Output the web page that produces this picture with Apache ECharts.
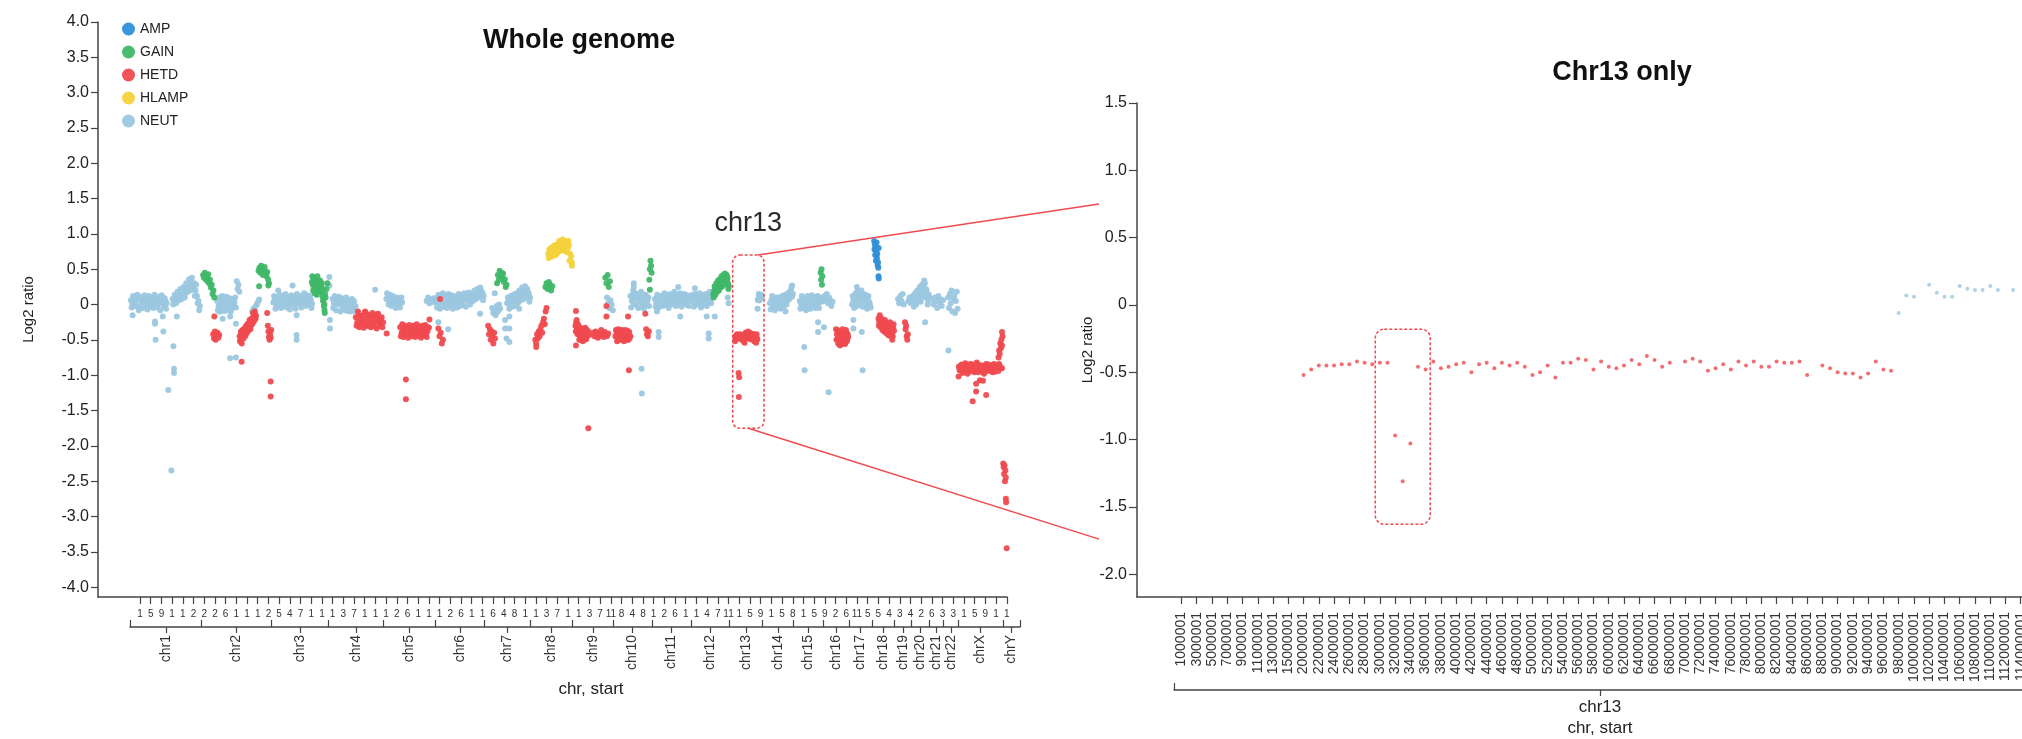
<!DOCTYPE html>
<html>
<head>
<meta charset="utf-8">
<script src="https://cdn.jsdelivr.net/npm/echarts@6/dist/echarts.min.js"></script>
<style>
  html, body { margin: 0; padding: 0; background: #fff; }
  #chart { width: 2022px; height: 739px; }
</style>
</head>
<body>
<div id="chart"></div>
<script>
// ---------------- Copy-number states ----------------
const STATES = ['AMP', 'GAIN', 'HETD', 'HLAMP', 'NEUT'];
const STATE_COLORS = { AMP: '#2f8fd8', GAIN: '#40b768', HETD: '#ef4a4f', HLAMP: '#f4d23c', NEUT: '#9bc7df' };

// ---------------- Genome layout ----------------
const CHR_NAMES = ['chr1','chr2','chr3','chr4','chr5','chr6','chr7','chr8','chr9','chr10','chr11','chr12',
  'chr13','chr14','chr15','chr16','chr17','chr18','chr19','chr20','chr21','chr22','chrX','chrY'];
const CHR_LENGTHS_MB = [249.25,243.2,198.0,191.2,180.9,171.1,159.1,146.4,141.2,135.5,135.0,133.9,
  115.2,107.3,102.5,90.4,81.2,78.1,59.1,63.0,48.1,51.3,155.3,59.4];

// "start" tick labels along the whole-genome axis (first character of each start)
const GENOME_TICK_LABELS = ['1','5','9','1','1','2','2','2','6','1','1','1','2','5','4','7','1','1','1','3',
  '7','1','1','1','2','6','1','1','1','2','6','1','1','6','4','8','1','1','3','7','1',
  '1','3','7','11','8','4','8','1','2','6','1','1','4','7','11','1','5','9','1','5','8','1','5','9','2',
  '6','11','5','5','4','3','4','2','6','3','3','1','5','9','1','1'];
const GENOME_TICK_FIRST_MB = 34.8;
const GENOME_TICK_STEP_MB = 37.22;

// ---------------- Log2 ratios per chromosome ----------------
// run: [state, startMb, stepMb, values]  |  points: [state, posMb, values]
const chr1 = [
  ['NEUT', 3, 5, [0.06,0.02,0.09,0.04,-0.02,0.07,-0.06,-0.03,0.05,0.08,0.03,0.06,-0.01,0.07,0.04,0.09,0.02,0.05,0.08,0.01,0.06,0.03,0.1,-0.02,0.05,0.02]],
  ['NEUT', 5.5, 5, [-0.04,0.12,-0.02,0.1,0.14,-0.08,0.11,0.02,-0.05,0.13,0.0,-0.07,0.12,-0.03,0.1,-0.05,0.14,0.0,-0.04,0.11,-0.08,0.13,0.0,0.09,-0.06]],
  ['NEUT', 148, 5, [0.08,0.05,0.1,0.12,0.09,0.15,0.11,0.18,0.14,0.2,0.17,0.24,0.28,0.32,0.26,0.3,0.2,0.12,0.05,-0.02]],
  ['NEUT', 150.5, 5, [0.0,0.14,0.02,0.18,0.06,0.22,0.08,0.25,0.1,0.3,0.22,0.36,0.2,0.38,0.22,0.12,0.28,0.02,-0.08]],
  ['NEUT', 9, [-0.15]], ['NEUT', 87, [-0.24,-0.27]], ['NEUT', 89, [-0.5]], ['NEUT', 114, [-0.17]], ['NEUT', 116, [-0.38]],
  ['NEUT', 133, [-1.21]], ['NEUT', 144, [-2.35]], ['NEUT', 151, [-0.59]], ['NEUT', 153, [-0.91,-0.97]], ['NEUT', 163, [-0.17]]
];
const chr2 = [
  ['GAIN', 5, 3, [0.42,0.38,0.45,0.36,0.4,0.33,0.43,0.3,0.35,0.24,0.28,0.15,0.2,0.1]],
  ['HETD', 40, 3, [-0.42,-0.48,-0.38,-0.5,-0.44,-0.4,-0.47,-0.43]],
  ['HETD', 44, [-0.17]],
  ['NEUT', 54, 5, [0.05,-0.02,0.08,0.0,-0.05,0.06,0.02,-0.06,0.04,-0.03,0.01,0.07,0.03,-0.04]],
  ['NEUT', 56.5, 5, [-0.08,0.1,-0.1,0.12,0.03,-0.09,0.11,-0.02,0.09,-0.1,0.08,-0.04,0.1]],
  ['NEUT', 122, 3, [0.33,0.22,0.28,0.18]],
  ['NEUT', 61, [-0.1]], ['NEUT', 73, [-0.2]], ['NEUT', 99, [-0.17,-0.76]], ['NEUT', 119, [-0.27,-0.75]],
  ['HETD', 132, 3, [-0.45,-0.5,-0.42,-0.47,-0.4,-0.44,-0.38,-0.42,-0.35,-0.32,-0.37,-0.3,-0.26,-0.3,-0.22,-0.25,-0.18,-0.2,-0.14,-0.16]],
  ['HETD', 133.5, 3, [-0.52,-0.38,-0.55,-0.36,-0.48,-0.34,-0.45,-0.3,-0.4,-0.27,-0.33,-0.22,-0.35,-0.2,-0.28,-0.12,-0.24,-0.1,-0.2]],
  ['HETD', 139, [-0.81]],
  ['NEUT', 176, 4, [-0.1,-0.06,-0.08,-0.02,0.0,0.04,0.07]],
  ['GAIN', 198, 3, [0.48,0.52,0.45,0.55,0.5,0.42,0.47,0.53,0.44,0.4,0.46,0.36,0.3]],
  ['GAIN', 200, [0.26]], ['GAIN', 232, [0.27]],
  ['HETD', 228, 2, [-0.12,-0.3,-0.38,-0.46,-0.5,-0.42,-0.47,-0.36]],
  ['HETD', 240, [-1.09,-1.3]]
];
const chr3 = [
  ['NEUT', 6, 5, [0.03,0.08,0.0,0.06,0.1,0.02,0.05,-0.02,0.07,0.04,0.09,0.01,0.06,0.03,0.08,0.0,0.05,0.1,0.04,0.07,0.02,0.06,0.09,0.05,0.11,0.03,0.07,0.01]],
  ['NEUT', 8.5, 5, [0.12,-0.06,0.1,-0.03,0.14,-0.05,0.12,0.0,0.15,-0.04,0.1,-0.07,0.13,0.0,0.11,-0.06,0.15,0.02,0.12,-0.04,0.1,0.16,-0.02,0.13,0.0,0.12,-0.05]],
  ['NEUT', 23, [0.2]], ['NEUT', 73, [0.27]], ['NEUT', 87, [-0.15,-0.43,-0.5]],
  ['GAIN', 140, 3, [0.32,0.28,0.35,0.25,0.3,0.22,0.27,0.2,0.33,0.24,0.18,0.28,0.12,0.05,-0.02,-0.12,0.1,0.22,0.3]],
  ['GAIN', 141.5, 3, [0.4,0.2,0.38,0.16,0.36,0.14,0.4,0.3,0.25,0.34,0.2,0.3,0.22,0.08]],
  ['GAIN', 184, [0.0,-0.08]], ['GAIN', 186, [0.15]]
];
const chr4 = [
  ['NEUT', 3, [0.39,0.27]], ['NEUT', 5, [-0.22,-0.34]],
  ['NEUT', 14, 5, [0.08,0.02,0.06,0.1,0.0,0.05,0.03,-0.04,0.07,0.01,0.04,-0.06,0.02,-0.03,0.0,0.05,-0.02]],
  ['NEUT', 16.5, 5, [-0.05,0.12,-0.08,0.03,0.11,-0.1,0.09,0.0,-0.07,0.1,-0.09,0.06,-0.1,0.08,-0.05,-0.1]],
  ['NEUT', 60, [-0.08]], ['NEUT', 75, [-0.07]], ['NEUT', 162, [0.21]],
  ['HETD', 95, 5, [-0.18,-0.25,-0.15,-0.22,-0.28,-0.2,-0.12,-0.24,-0.18,-0.3,-0.2,-0.16,-0.26,-0.22,-0.14,-0.24,-0.2,-0.28,-0.18,-0.25]],
  ['HETD', 97.5, 5, [-0.3,-0.1,-0.32,-0.16,-0.26,-0.33,-0.1,-0.3,-0.14,-0.27,-0.32,-0.12,-0.3,-0.17,-0.34,-0.13,-0.3,-0.22,-0.32]]
];
const chr5 = [
  ['HETD', 11, [-0.41]],
  ['NEUT', 10, 5, [0.08,0.12,0.05,0.1,0.03,0.06,0.0,0.04,-0.01,0.02,0.06,0.03]],
  ['NEUT', 12.5, 5, [0.16,0.0,0.14,-0.02,0.12,0.09,-0.05,0.1,0.05,-0.04,0.1]],
  ['HETD', 58, 5, [-0.32,-0.4,-0.35,-0.38,-0.42,-0.33,-0.37,-0.4,-0.35,-0.44,-0.38,-0.36,-0.41,-0.34,-0.39,-0.43,-0.37,-0.35,-0.4,-0.38,-0.33]],
  ['HETD', 60.5, 5, [-0.45,-0.28,-0.46,-0.3,-0.36,-0.47,-0.29,-0.45,-0.32,-0.3,-0.46,-0.28,-0.44,-0.31,-0.47,-0.3,-0.44,-0.29,-0.46,-0.32]],
  ['HETD', 160, [-0.21]], ['HETD', 78, [-1.06,-1.34]],
  ['NEUT', 150, 5, [0.05,0.1,0.02,0.07,0.04,0.09,0.03]]
];
const chr6 = [
  ['NEUT', 3, 5, [0.06,0.1,0.02,0.08,0.04,0.12,0.0,0.07,0.05,0.1,0.03,0.08,-0.02,0.06,0.09,0.04,0.11,0.05,0.08,0.13,0.07,0.1,0.05,0.09,0.12,0.08,0.14,0.1,0.12,0.16,0.15,0.2,0.17,0.12]],
  ['NEUT', 5.5, 5, [-0.04,0.14,-0.06,0.12,0.16,-0.03,0.12,-0.05,0.15,0.0,0.13,-0.06,0.12,0.02,-0.04,0.15,-0.02,0.14,0.0,0.16,-0.03,0.12,0.17,0.0,0.15,0.05,0.2,0.08,0.22,0.1,0.24,0.14,0.06]],
  ['HETD', 16, [0.08]],
  ['HETD', 10, 4, [-0.34,-0.45,-0.4,-0.55,-0.5]],
  ['NEUT', 10, [-0.25]], ['NEUT', 44, [-0.35]], ['NEUT', 155, [-0.13]]
];
const chr7 = [
  ['HETD', 12, 3, [-0.3,-0.42,-0.35,-0.5,-0.38,-0.45,-0.55,-0.4,-0.48]],
  ['NEUT', 26, 4, [-0.05,-0.12,-0.08,-0.15,-0.02,-0.1,0.0,-0.06]],
  ['NEUT', 35, [0.16]],
  ['GAIN', 43, 3, [0.3,0.42,0.35,0.48,0.4,0.45,0.38,0.44,0.32,0.36,0.25,0.28]],
  ['NEUT', 78, 5, [0.02,0.06,0.0,0.08,0.04,0.1,0.05,0.12,0.08,0.15,0.18,0.12,0.2,0.15,0.22,0.16,0.1]],
  ['NEUT', 80.5, 5, [0.1,-0.06,0.12,-0.03,0.14,-0.02,0.16,0.02,0.2,0.06,0.24,0.08,0.26,0.1,0.17,0.04]],
  ['NEUT', 71, [-0.22,-0.34]], ['NEUT', 76, [-0.48]], ['NEUT', 86, [-0.17,-0.34,-0.53]], ['NEUT', 120, [-0.06]]
];
const chr8 = [
  ['HETD', 17, 3, [-0.5,-0.55,-0.42,-0.48,-0.38,-0.45,-0.35,-0.3,-0.4,-0.25,-0.2,-0.28,-0.1,-0.05]],
  ['HETD', 20, [-0.6]],
  ['GAIN', 52, 4, [0.25,0.3,0.22,0.32,0.28,0.2,0.26]],
  ['HLAMP', 62, 4, [0.72,0.78,0.7,0.75,0.82,0.76,0.8,0.72,0.85,0.78,0.82,0.88,0.8,0.84,0.76,0.86,0.9,0.8,0.84,0.72,0.68]],
  ['HLAMP', 64, 4, [0.66,0.74,0.8,0.68,0.72,0.84,0.7,0.78,0.74,0.9,0.76,0.82,0.92,0.78,0.88,0.8,0.74,0.9,0.62]],
  ['HLAMP', 144, [0.6,0.55]]
];
const chr9 = [
  ['HETD', 10, 3, [-0.3,-0.25,-0.35,-0.28,-0.4,-0.32,-0.45,-0.38,-0.42,-0.48,-0.4,-0.44,-0.36,-0.46,-0.41,-0.38,-0.43]],
  ['HETD', 11.5, 3, [-0.38,-0.22,-0.42,-0.36,-0.5,-0.35,-0.5,-0.34,-0.52,-0.37,-0.5,-0.33,-0.49,-0.36]],
  ['HETD', 12, [-0.09,-0.58]], ['HETD', 55, [-1.75]],
  ['HETD', 72, 4, [-0.4,-0.45,-0.38,-0.42,-0.47,-0.4,-0.44,-0.36,-0.43,-0.46,-0.39,-0.42,-0.45,-0.41]],
  ['GAIN', 114, 4, [0.38,0.3,0.42,0.25,0.33]],
  ['HETD', 118, [-0.02,-0.17]],
  ['NEUT', 120, 4, [0.1,0.02,-0.05,0.06,0.0,-0.08]]
];
const chr10 = [
  ['HETD', 8, 4, [-0.45,-0.4,-0.48,-0.42,-0.38,-0.46,-0.5,-0.41,-0.44,-0.4,-0.47,-0.43,-0.39,-0.45]],
  ['HETD', 10, 4, [-0.36,-0.52,-0.35,-0.5,-0.48,-0.36,-0.42,-0.52,-0.36,-0.5,-0.37,-0.5,-0.47]],
  ['HETD', 52, [-0.17]], ['HETD', 55, [-0.93]],
  ['NEUT', 60, 5, [0.12,0.05,0.2,0.08,0.0,0.1,0.15,0.04,-0.03,0.08,0.02,0.12,0.06,-0.02]],
  ['NEUT', 62.5, 5, [-0.04,0.14,0.0,0.16,0.1,-0.05,0.08,0.18,0.1,-0.06,0.14,0.0,0.1]],
  ['NEUT', 72, [0.3,0.25]], ['NEUT', 99, [-0.91]], ['NEUT', 100, [-1.26]],
  ['HETD', 112, 3, [-0.13,-0.35,-0.42,-0.45,-0.38]],
  ['GAIN', 126, 2, [0.35,0.5,0.62,0.55,0.45]], ['GAIN', 128, [0.21]]
];
const chr11 = [
  ['NEUT', 10, 5, [0.08,0.03,0.1,0.05,0.0,0.07,0.12,0.04,0.09,0.02,0.06,0.11,0.05,0.08,0.14,0.03,0.07,0.1,0.04,0.09,0.06,0.02,0.08,0.05,0.1]],
  ['NEUT', 12.5, 5, [-0.03,0.14,-0.04,0.12,0.1,-0.02,0.16,0.0,0.13,-0.05,0.15,0.0,0.12,0.18,-0.02,0.14,0.02,0.16,-0.03,0.12,0.15,0.0,0.13,-0.02]],
  ['NEUT', 17, [-0.1]], ['NEUT', 23, [-0.39,-0.46]], ['NEUT', 91, [0.25]], ['NEUT', 98, [-0.17]]
];
const chr12 = [
  ['NEUT', 3, 5, [0.05,0.1,0.02,0.08,0.12,0.04,0.07,0.0,0.09,0.05,0.03,0.08,0.1,0.04,0.12]],
  ['NEUT', 5.5, 5, [0.14,-0.03,0.15,0.0,0.12,0.16,-0.04,0.13,0.0,0.15,-0.02,0.14,0.18,0.02]],
  ['NEUT', 14, [0.23]], ['NEUT', 55, [-0.17]], ['NEUT', 62, [-0.41,-0.48]], ['NEUT', 83, [-0.17]],
  ['GAIN', 78, 3, [0.15,0.2,0.18,0.24,0.22,0.28,0.25,0.3,0.27,0.33,0.3,0.36,0.28,0.38,0.32,0.4,0.35,0.3,0.26]],
  ['GAIN', 79.5, 3, [0.1,0.26,0.14,0.3,0.18,0.34,0.2,0.36,0.24,0.4,0.26,0.42,0.3,0.44,0.36,0.42,0.38,0.22]],
  ['NEUT', 128, 3, [0.1,0.02]]
];
// chr13 at 1 Mb resolution: [bin start (Mb), log2 ratio]
const CHR13_HETD = [[20,-0.52],[21,-0.48],[22,-0.45],[23,-0.45],[24,-0.45],[25,-0.44],[26,-0.44],[27,-0.42],[28,-0.43],[29,-0.44],
  [30,-0.43],[31,-0.43],[32,-0.97],[33,-1.31],[34,-1.03],[35,-0.46],[36,-0.48],[37,-0.42],[38,-0.47],[39,-0.46],
  [40,-0.44],[41,-0.43],[42,-0.50],[43,-0.44],[44,-0.43],[45,-0.47],[46,-0.43],[47,-0.45],[48,-0.43],[49,-0.46],
  [50,-0.52],[51,-0.50],[52,-0.45],[53,-0.54],[54,-0.43],[55,-0.43],[56,-0.40],[57,-0.41],[58,-0.48],[59,-0.42],
  [60,-0.46],[61,-0.47],[62,-0.45],[63,-0.41],[64,-0.44],[65,-0.38],[66,-0.41],[67,-0.46],[68,-0.43],[70,-0.42],
  [71,-0.40],[72,-0.42],[73,-0.49],[74,-0.47],[75,-0.44],[76,-0.48],[77,-0.42],[78,-0.45],[79,-0.42],[80,-0.46],
  [81,-0.46],[82,-0.42],[83,-0.43],[84,-0.43],[85,-0.42],[86,-0.52],[88,-0.45],[89,-0.47],[90,-0.50],[91,-0.51],
  [92,-0.51],[93,-0.54],[94,-0.51],[95,-0.42],[96,-0.48],[97,-0.49]];
const CHR13_NEUT = [[98,-0.06],[99,0.07],[100,0.06],[102,0.15],[103,0.09],[104,0.06],[105,0.06],[106,0.14],
  [107,0.12],[108,0.11],[109,0.11],[110,0.14],[111,0.11],[113,0.11]];
const chr14 = [
  ['NEUT', 26, 5, [0.02,0.06,-0.03,0.05,0.0,0.08,-0.05,0.04,0.01,0.07,0.03,0.1,0.05,0.12,0.18,0.25,0.15]],
  ['NEUT', 28.5, 5, [-0.07,0.12,0.06,-0.08,0.1,-0.02,0.1,-0.06,0.12,-0.03,0.14,0.0,0.16,0.08,0.2]],
  ['NEUT', 80, [-0.1]], ['NEUT', 103, [0.27,0.11]]
];
const chr15 = [
  ['NEUT', 22, 5, [0.05,0.0,0.08,-0.04,0.03,0.06,-0.02,0.04,0.1,0.01,0.05,-0.05,0.07,0.02,0.09,0.04]],
  ['NEUT', 24.5, 5, [-0.06,0.12,-0.02,0.09,-0.08,0.12,0.0,-0.06,0.13,-0.03,0.1,0.0,0.12,-0.05,0.1]],
  ['NEUT', 38, [-0.6]], ['NEUT', 39, [-0.93]], ['NEUT', 86, [-0.25,-0.39]],
  ['GAIN', 95, 1.5, [0.45,0.35,0.5,0.28,0.4]]
];
const chr16 = [
  ['NEUT', 2, 4, [0.05,0.12,0.08,0.15,0.02,0.1,0.06,-0.02,0.04]],
  ['NEUT', 4, [-0.32]], ['NEUT', 20, [-1.24]],
  ['HETD', 46, 3, [-0.35,-0.42,-0.48,-0.4,-0.52,-0.45,-0.38,-0.5,-0.44,-0.55,-0.42,-0.48,-0.4,-0.5,-0.46]],
  ['HETD', 47.5, 3, [-0.5,-0.36,-0.55,-0.45,-0.38,-0.56,-0.42,-0.35,-0.52,-0.4,-0.56,-0.36,-0.52,-0.42]],
  ['HETD', 60, [-0.58]]
];
const chr17 = [
  ['NEUT', 11, 5, [0.0,0.06,0.1,0.03,0.2,0.08,0.12,0.05,0.15,0.07,0.0,0.1,0.04,-0.04]],
  ['NEUT', 13.5, 5, [0.12,-0.05,0.16,-0.02,0.14,0.0,0.2,-0.03,0.1,0.14,-0.06,0.12,0.0]],
  ['NEUT', 16, [-0.22,-0.34]], ['NEUT', 48, [-0.93]], ['NEUT', 45, [-0.39]], ['NEUT', 28, [0.25]]
];
const chr18 = [
  ['AMP', 7, 1.2, [0.9,0.78,0.85,0.7,0.82,0.62,0.75,0.88,0.66,0.72,0.56,0.6,0.52,0.8]],
  ['AMP', 22, [0.4]], ['AMP', 23, [0.37]],
  ['HETD', 22, 3, [-0.2,-0.25,-0.18,-0.28,-0.22,-0.3,-0.26,-0.32,-0.28,-0.35,-0.3,-0.36,-0.33,-0.38,-0.3,-0.35,-0.4,-0.33,-0.37]],
  ['HETD', 23.5, 3, [-0.3,-0.15,-0.32,-0.2,-0.36,-0.24,-0.38,-0.22,-0.4,-0.26,-0.42,-0.28,-0.44,-0.25,-0.42,-0.3,-0.45,-0.28]],
  ['HETD', 70, [-0.5]]
];
const chr19 = [
  ['NEUT', 12, 4, [0.08,0.02,0.12,0.05,0.15,0.0]],
  ['HETD', 36, 2, [-0.25,-0.35,-0.3,-0.45,-0.5,-0.42]],
  ['NEUT', 48, 4, [0.05,0.1,0.02]]
];
const chr20 = [
  ['NEUT', 2, 4, [0.05,0.1,0.02,0.12,0.08,0.15,0.2,0.1,0.18,0.25,0.15,0.3,0.22,0.12,0.05,0.1]],
  ['NEUT', 4, 4, [0.12,-0.03,0.16,0.0,0.2,0.08,0.25,0.04,0.28,0.12,0.3,0.1,0.2,0.0,0.14]],
  ['NEUT', 47, [-0.25]], ['NEUT', 44, [0.34]]
];
const chr21 = [
  ['NEUT', 10, 4, [0.08,0.0,0.1,0.05,-0.05,0.12,0.03,0.07,-0.02,0.06]]
];
const chr22 = [
  ['NEUT', 16, 3, [0.1,-0.05,0.15,0.02,0.2,-0.1,0.08,0.12,-0.12,0.05,0.18,-0.06]],
  ['NEUT', 17, [-0.65]]
];
const chrX = [
  ['HETD', 2, 5, [-0.88,-0.92,-0.85,-0.95,-0.9,-0.86,-0.98,-0.9,-0.84,-0.93,-0.88,-0.96,-0.9,-0.85,-0.92,-0.89,-0.95,-0.87,-0.91,-0.84,-0.94,-0.9,-0.86,-0.92,-0.88,-0.95,-0.86,-0.9,-0.84,-0.9]],
  ['HETD', 4.5, 5, [-0.93,-0.86,-0.97,-0.88,-0.83,-0.92,-0.87,-0.95,-0.9,-0.85,-0.94,-0.88,-0.82,-0.96,-0.9,-0.86,-0.92,-0.98,-0.87,-0.91,-0.85,-0.93,-0.89,-0.96,-0.84,-0.91,-0.88,-0.94,-0.87]],
  ['HETD', 1, [-1.02]], ['HETD', 62, [-1.12,-1.23]], ['HETD', 50, [-1.37]], ['HETD', 75, [-1.07]],
  ['HETD', 97, [-1.28]], ['HETD', 86, [-1.08]],
  ['HETD', 140, 2, [-0.75,-0.65,-0.7,-0.55,-0.62,-0.5,-0.58,-0.45]],
  ['HETD', 152, [-0.39,-0.9]]
];
const chrY = [
  ['HETD', 1, 1.5, [-2.25,-2.3,-2.4,-2.28,-2.5,-2.35,-2.45]],
  ['HETD', 10, [-2.75]], ['HETD', 11, [-2.8]], ['HETD', 13, [-3.45]]
];

// chr13 bins shown in the zoomed panel (start position in Mb)
const CHR13_BINS_MB = [1,2,3,4,5,6,7,8,9,10,11,12,13,14,15,
  19,20,21,22,23,24,25,26,27,28,29,30,31,32,33,34,35,36,37,38,39,40,41,42,43,44,45,46,47,48,49,50,
  51,52,53,54,55,56,57,58,59,60,61,62,63,64,65,66,67,68,69,70,71,72,73,74,75,76,77,78,79,80,
  81,82,83,84,85,86,87,88,89,90,91,92,93,94,95,96,97,98,99,100,101,102,103,104,105,106,107,108,109,110,
  111,112,113,114,115];

// ---------------- Build scatter data ----------------
const chr13 = [
  ...CHR13_HETD.map(([mb, v]) => ['HETD', mb, [v]]),
  ...CHR13_NEUT.map(([mb, v]) => ['NEUT', mb, [v]])
];
const CHR_RUNS = [chr1, chr2, chr3, chr4, chr5, chr6, chr7, chr8, chr9, chr10, chr11, chr12,
  chr13, chr14, chr15, chr16, chr17, chr18, chr19, chr20, chr21, chr22, chrX, chrY];

const CHR_OFFSETS_MB = [];
let genomeMb = 0;
CHR_LENGTHS_MB.forEach(len => { CHR_OFFSETS_MB.push(genomeMb); genomeMb += len; });

const genomePoints = {};
STATES.forEach(s => { genomePoints[s] = []; });
CHR_RUNS.forEach((runs, ci) => {
  const off = CHR_OFFSETS_MB[ci];
  runs.forEach(run => {
    if (run.length === 4) {
      const [state, start, step, vals] = run;
      vals.forEach((v, i) => genomePoints[state].push([off + start + i * step, v]));
    } else {
      const [state, pos, vals] = run;
      vals.forEach(v => genomePoints[state].push([off + pos, v]));
    }
  });
});

const chr13Points = {
  HETD: CHR13_HETD.map(([mb, v]) => [CHR13_BINS_MB.indexOf(mb), v]),
  NEUT: CHR13_NEUT.map(([mb, v]) => [CHR13_BINS_MB.indexOf(mb), v])
};

// ---------------- Axis helpers ----------------
const FONT = '"Liberation Sans", Arial, Helvetica, sans-serif';
const NARROW = '"Liberation Sans Narrow", "Liberation Sans", Arial, sans-serif';
const AXIS_COLOR = '#444';
const TEXT_COLOR = '#222';

const genomeTickValues = GENOME_TICK_LABELS.map((_, i) => GENOME_TICK_FIRST_MB + i * GENOME_TICK_STEP_MB);
const chrBoundaries = CHR_OFFSETS_MB.concat([genomeMb]);
const chrCenters = CHR_OFFSETS_MB.map((o, i) => o + CHR_LENGTHS_MB[i] / 2);
const chr13TickIdx = CHR13_BINS_MB.map((_, i) => i).filter(i => i % 2 === 0);

const leftY = [-4,-3.5,-3,-2.5,-2,-1.5,-1,-0.5,0,0.5,1,1.5,2,2.5,3,3.5,4];
const rightY = [-2,-1.5,-1,-0.5,0,0.5,1,1.5];
const fmtY = v => (v === 0 ? '0' : v.toFixed(1));

function chrNameAt(v) {
  for (let i = 0; i < CHR_OFFSETS_MB.length; i++) {
    if (v >= CHR_OFFSETS_MB[i] && v < CHR_OFFSETS_MB[i] + CHR_LENGTHS_MB[i]) return CHR_NAMES[i];
  }
  return '';
}

const line = { show: true, onZero: false, lineStyle: { color: AXIS_COLOR, width: 1.5 } };
const tickStyle = { color: AXIS_COLOR, width: 1.2 };

const chart = echarts.init(document.getElementById('chart'), null, { renderer: 'canvas', width: 2022, height: 739 });

const option = {
  animation: false,
  backgroundColor: '#fff',
  textStyle: { fontFamily: FONT },
  legend: {
    orient: 'vertical', left: 117, top: 17, itemWidth: 13, itemHeight: 13, itemGap: 9,
    icon: 'circle', data: STATES,
    textStyle: { fontSize: 14, color: TEXT_COLOR, fontFamily: FONT }
  },
  grid: [
    { left: 98, top: 22, width: 909, height: 575, containLabel: false, outerBoundsMode: 'none' },
    { left: 1137, top: 103, width: 899, height: 494, containLabel: false, outerBoundsMode: 'none' },
    { left: 130, top: 600, width: 890, height: 27, containLabel: false, outerBoundsMode: 'none' },
    { left: 1174, top: 660, width: 852, height: 30, containLabel: false, outerBoundsMode: 'none' }
  ],
  xAxis: [
    { // whole genome, start ticks
      gridIndex: 0, type: 'value', min: -111.3, max: 3050.4, position: 'bottom',
      axisLine: line,
      axisTick: { show: true, length: 7, customValues: genomeTickValues, lineStyle: tickStyle },
      axisLabel: {
        show: true, customValues: genomeTickValues, margin: 12, fontSize: 10, color: '#333', fontFamily: FONT,
        formatter: v => GENOME_TICK_LABELS[Math.round((v - GENOME_TICK_FIRST_MB) / GENOME_TICK_STEP_MB)] || ''
      },
      splitLine: { show: false }
    },
    { // chr13 bins
      gridIndex: 1, type: 'value', min: -5.83, max: 112, position: 'bottom',
      axisLine: line,
      axisTick: { show: true, length: 7, customValues: chr13TickIdx, lineStyle: tickStyle },
      axisLabel: {
        show: true, customValues: chr13TickIdx, rotate: 90, margin: 15, fontSize: 14, color: '#333', fontFamily: NARROW,
        formatter: v => CHR13_BINS_MB[Math.round(v)] + '000001'
      },
      splitLine: { show: false }
    },
    { // chromosome brackets (boundaries)
      gridIndex: 2, type: 'value', min: 0, max: genomeMb, position: 'bottom',
      axisLine: line,
      axisTick: { show: true, inside: true, length: 7, customValues: chrBoundaries, lineStyle: tickStyle },
      axisLabel: { show: false }, splitLine: { show: false }
    },
    { // chromosome names
      gridIndex: 2, type: 'value', min: 0, max: genomeMb, position: 'bottom',
      axisLine: { show: false, onZero: false },
      axisTick: { show: true, length: 6, customValues: chrCenters, lineStyle: tickStyle },
      axisLabel: {
        show: true, customValues: chrCenters, rotate: 90, margin: 8, fontSize: 14, color: '#333', fontFamily: FONT,
        formatter: v => chrNameAt(v)
      },
      splitLine: { show: false },
      name: 'chr, start', nameLocation: 'middle', nameGap: 54, nameMoveOverlap: false,
      nameTextStyle: { fontSize: 17, color: TEXT_COLOR, fontFamily: FONT, padding: [0, 0, 0, 32] }
    },
    { // chr13 bracket
      gridIndex: 3, type: 'value', min: 0, max: 1, position: 'bottom',
      axisLine: line,
      axisTick: { show: true, inside: true, length: 7, customValues: [0, 1], lineStyle: tickStyle },
      axisLabel: { show: false }, splitLine: { show: false }
    },
    {
      gridIndex: 3, type: 'value', min: 0, max: 1, position: 'bottom',
      axisLine: { show: false, onZero: false },
      axisTick: { show: true, length: 6, customValues: [0.5], lineStyle: tickStyle },
      axisLabel: { show: true, customValues: [0.5], margin: 9, fontSize: 17, color: TEXT_COLOR, fontFamily: NARROW, formatter: () => 'chr13' },
      splitLine: { show: false },
      name: 'chr, start', nameLocation: 'middle', nameGap: 30, nameMoveOverlap: false,
      nameTextStyle: { fontSize: 17, color: TEXT_COLOR, fontFamily: NARROW }
    }
  ],
  yAxis: [
    {
      gridIndex: 0, type: 'value', min: -4.14, max: 4,
      axisLine: line,
      axisTick: { show: true, length: 7, customValues: leftY, lineStyle: tickStyle },
      axisLabel: { show: true, customValues: leftY, margin: 9, fontSize: 16, color: TEXT_COLOR, fontFamily: FONT, formatter: fmtY },
      splitLine: { show: false },
      name: 'Log2 ratio', nameLocation: 'middle', nameGap: 62, nameRotate: 90, nameMoveOverlap: false,
      nameTextStyle: { fontSize: 15, color: TEXT_COLOR, fontFamily: FONT }
    },
    {
      gridIndex: 1, type: 'value', min: -2.17, max: 1.5,
      axisLine: line,
      axisTick: { show: true, length: 8, customValues: rightY, lineStyle: tickStyle },
      axisLabel: { show: true, customValues: rightY, margin: 10, fontSize: 16, color: TEXT_COLOR, fontFamily: NARROW, formatter: fmtY },
      splitLine: { show: false },
      name: 'Log2 ratio', nameLocation: 'middle', nameGap: 42, nameRotate: 90, nameMoveOverlap: false,
      nameTextStyle: { fontSize: 15, color: TEXT_COLOR, fontFamily: FONT }
    },
    { gridIndex: 2, type: 'value', show: false, min: 0, max: 1 },
    { gridIndex: 3, type: 'value', show: false, min: 0, max: 1 }
  ],
  series: []
};

// whole genome: neutral underneath, then the altered states
['NEUT', 'HETD', 'GAIN', 'HLAMP', 'AMP'].forEach(state => {
  option.series.push({
    name: state, type: 'scatter', xAxisIndex: 0, yAxisIndex: 0,
    symbol: 'circle', symbolSize: 6, clip: false,
    itemStyle: { color: STATE_COLORS[state], opacity: 0.95 },
    data: genomePoints[state]
  });
});
// chr13 only
['HETD', 'NEUT'].forEach(state => {
  option.series.push({
    name: state, type: 'scatter', xAxisIndex: 1, yAxisIndex: 1,
    symbol: 'circle', symbolSize: 4,
    itemStyle: { color: STATE_COLORS[state] },
    data: chr13Points[state]
  });
});

chart.setOption(option);

// ---------------- Annotations: zoom boxes, link lines, titles ----------------
const HIGHLIGHT_COLOR = '#ef4a4f';
const LEFT_BOX = { fromMb: 11.5, toMb: 120.5, top: 0.7, bottom: -1.75 };   // around chr13
const RIGHT_BOX = { fromBin: 25.4, toBin: 32.6, top: -0.18, bottom: -1.63 }; // around the low bins
const LINK_END = { bin: -10.8, top: 0.75, bottom: -1.74 };

const off13 = CHR_OFFSETS_MB[CHR_NAMES.indexOf('chr13')];
const lTL = chart.convertToPixel({ gridIndex: 0 }, [off13 + LEFT_BOX.fromMb, LEFT_BOX.top]);
const lBR = chart.convertToPixel({ gridIndex: 0 }, [off13 + LEFT_BOX.toMb, LEFT_BOX.bottom]);
const rTL = chart.convertToPixel({ gridIndex: 1 }, [RIGHT_BOX.fromBin, RIGHT_BOX.top]);
const rBR = chart.convertToPixel({ gridIndex: 1 }, [RIGHT_BOX.toBin, RIGHT_BOX.bottom]);
const eTop = chart.convertToPixel({ gridIndex: 1 }, [LINK_END.bin, LINK_END.top]);
const eBot = chart.convertToPixel({ gridIndex: 1 }, [LINK_END.bin, LINK_END.bottom]);

const dashed = { fill: 'none', stroke: HIGHLIGHT_COLOR, lineWidth: 1.5, lineDash: [3, 2] };
chart.setOption({
  graphic: [
    { type: 'rect', z: 20, shape: { x: lTL[0], y: lTL[1], width: lBR[0] - lTL[0], height: lBR[1] - lTL[1], r: 7 }, style: dashed },
    { type: 'rect', z: 20, shape: { x: rTL[0], y: rTL[1], width: rBR[0] - rTL[0], height: rBR[1] - rTL[1], r: 9 }, style: dashed },
    { type: 'line', z: 20, shape: { x1: lBR[0] - 6, y1: lTL[1], x2: eTop[0], y2: eTop[1] }, style: { stroke: HIGHLIGHT_COLOR, lineWidth: 1.5 } },
    { type: 'line', z: 20, shape: { x1: (lTL[0] + lBR[0]) / 2, y1: lBR[1], x2: eBot[0], y2: eBot[1] }, style: { stroke: HIGHLIGHT_COLOR, lineWidth: 1.5 } },
    { type: 'text', z: 20, x: (lTL[0] + lBR[0]) / 2, y: lTL[1] - 32,
      style: { text: 'chr13', fontSize: 27, fontFamily: FONT, fill: '#2a2a2a', align: 'center', verticalAlign: 'middle' } },
    { type: 'text', z: 20, x: 579, y: 41,
      style: { text: 'Whole genome', fontSize: 27, fontWeight: 'bold', fontFamily: FONT, fill: '#111', align: 'center', verticalAlign: 'middle' } },
    { type: 'text', z: 20, x: 1622, y: 73,
      style: { text: 'Chr13 only', fontSize: 27, fontWeight: 'bold', fontFamily: NARROW, fill: '#111', align: 'center', verticalAlign: 'middle' } }
  ]
});
</script>
</body>
</html>
